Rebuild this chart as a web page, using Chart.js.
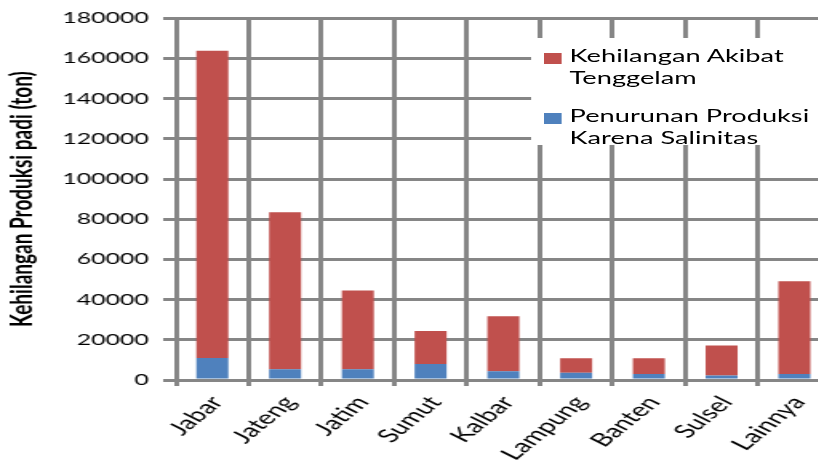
<!DOCTYPE html>
<html>
<head>
<meta charset="utf-8">
<script src="https://cdn.jsdelivr.net/npm/chart.js@4"></script>
<style>
  html, body { margin: 0; padding: 0; background: #fff; overflow: hidden; }
  body { width: 818px; height: 464px; }
  /* the reference is stretched horizontally, so draw narrow and scale */
  .wrap { position: relative; width: 520px; height: 464px; transform: scaleX(1.6); transform-origin: 0 0; }
  .legend { position: absolute; left: 332px; top: 38px; width: 200px; height: 107px; background: #fff; padding-top: 7px; box-sizing: border-box; font-family: Lato, sans-serif; font-size: 17px; line-height: 22.3px; color: #000; }
  .legend .item { display: flex; align-items: flex-start; margin-bottom: 15.5px; }
  .legend .sw { width: 11px; height: 11px; margin-left: 8px; margin-right: 5px; margin-top: 8px; flex: none; }
</style>
</head>
<body>
<div class="wrap">
  <canvas id="chart" width="520" height="464"></canvas>
  <div class="legend" id="legend"></div>
</div>
<script>
const categories = ["Jabar", "Jateng", "Jatim", "Sumut", "Kalbar", "Lampung", "Banten", "Sulsel", "Lainnya"];
const salinitas = [11000, 5300, 5300, 8000, 4300, 3600, 3000, 2300, 3000];
const tenggelam = [152800, 78200, 39300, 16400, 27400, 7200, 7800, 14900, 46100];
const salinitasLabel = ["Penurunan Produksi", "Karena Salinitas"];
const tenggelamLabel = ["Kehilangan Akibat", "Tenggelam"];
const yTitle = "Kehilangan Produksi padi (ton)";

const RED = "#C0504D";
const BLUE = "#4F81BD";
const GRID = "#868686";

Chart.defaults.font.family = "Lato, sans-serif";
Chart.defaults.color = "#000";

const chart = new Chart(document.getElementById("chart"), {
  type: "bar",
  data: {
    labels: categories,
    datasets: [
      { label: salinitasLabel, data: salinitas, backgroundColor: BLUE },
      { label: tenggelamLabel, data: tenggelam, backgroundColor: RED },
    ],
  },
  options: {
    responsive: false,
    animation: false,
    devicePixelRatio: 1,
    layout: { padding: { top: 17, right: 0, left: 0, bottom: 0 } },
    datasets: { bar: { barPercentage: 0.44, categoryPercentage: 1 } },
    plugins: { legend: { display: false }, tooltip: { enabled: false } },
    scales: {
      x: {
        stacked: true,
        grid: { color: GRID, lineWidth: 3, tickLength: 6, offset: true },
        border: { color: GRID, width: 3 },
        ticks: { font: { size: 18.5 }, maxRotation: 52, minRotation: 52, autoSkip: false, padding: 6, labelOffset: 3 },
        afterFit: (s) => { s.height = 84; },
      },
      y: {
        stacked: true,
        min: 0,
        max: 180000,
        grid: { color: GRID, lineWidth: 3, tickLength: 8 },
        border: { color: GRID, width: 3 },
        ticks: { stepSize: 20000, font: { size: 15.5 }, padding: 9, callback: (v) => String(v) },
        title: { display: true, text: yTitle, font: { size: 19, weight: "bold" }, padding: { top: 2, bottom: 0 } },
        afterFit: (s) => { s.width = 110; },
      },
    },
  },
});

// legend: red first, then blue, each label on two lines
const legend = document.getElementById("legend");
[chart.data.datasets[1], chart.data.datasets[0]].forEach((ds) => {
  const item = document.createElement("div");
  item.className = "item";
  const sw = document.createElement("span");
  sw.className = "sw";
  sw.style.background = ds.backgroundColor;
  const tx = document.createElement("span");
  tx.innerHTML = ds.label.join("<br>");
  item.appendChild(sw);
  item.appendChild(tx);
  legend.appendChild(item);
});
</script>
</body>
</html>
